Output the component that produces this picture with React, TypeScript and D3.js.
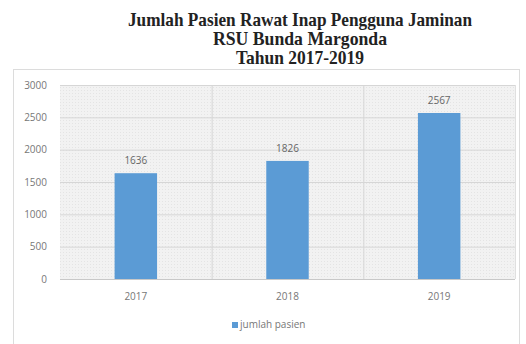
import React from "react";
import * as d3 from "d3";

const categories = ["2017", "2018", "2019"];
const values = [1636, 1826, 2567];
const yTicks = [0, 500, 1000, 1500, 2000, 2500, 3000];
const titleLines = [
  "Jumlah Pasien Rawat Inap Pengguna Jaminan",
  "RSU Bunda Margonda",
  "Tahun 2017-2019",
];
const titleWidths = [344, 174, 128];
const seriesName = "jumlah pasien";

export default function App() {
  const W = 526, H = 344;
  const plot = { left: 60, right: 515, top: 85, bottom: 279 };
  const x = d3.scaleBand().domain(categories).range([plot.left, plot.right]).paddingInner(0.72).paddingOuter(0.36);
  const xb = d3.scaleBand().domain(categories).range([plot.left, plot.right]);
  const y = d3.scaleLinear().domain([0, 3000]).range([plot.bottom, plot.top]);
  const labelFont = "'Open Sans', 'Liberation Sans', sans-serif";
  return (
    <svg width={W} height={H} style={{ position: "absolute", left: 0, top: 0, background: "#fff" }}>
      <defs>
        <pattern id="dots" width="3" height="3" patternUnits="userSpaceOnUse">
          <rect width="3" height="3" fill="#f2f2f2" />
          <rect width="1" height="1" fill="#e4e4e4" />
        </pattern>
      </defs>
      {titleLines.map((t, i) => (
        <text key={i} x={300} y={26 + i * 19} textAnchor="middle" fontFamily="'Liberation Serif', 'Times New Roman', serif"
          fontWeight="bold" fontSize={19} fill="#222" textLength={titleWidths[i]} lengthAdjust="spacingAndGlyphs">{t}</text>
      ))}
      <rect x={13.5} y={69.5} width={506} height={280} fill="#fff" stroke="#dcdcdc" />
      <rect x={plot.left} y={plot.top} width={plot.right - plot.left} height={plot.bottom - plot.top} fill="url(#dots)" />
      {yTicks.map((t) => (
        <g key={t}>
          {t > 0 && <line x1={plot.left} x2={plot.right} y1={y(t) + 0.5} y2={y(t) + 0.5} stroke="#d6d6d6" />}
          <text x={plot.left - 13} y={y(t) + 3.5} textAnchor="end" fontFamily={labelFont} fontSize={10} fill="#777">{t}</text>
        </g>
      ))}
      {categories.slice(1).map((c) => (
        <line key={c} x1={xb(c)! + 0.5} x2={xb(c)! + 0.5} y1={plot.top} y2={plot.bottom} stroke="#d6d6d6" />
      ))}
      <line x1={plot.right + 0.5} x2={plot.right + 0.5} y1={plot.top} y2={plot.bottom} stroke="#e0e0e0" />
      <line x1={plot.left} x2={plot.right} y1={plot.bottom + 0.5} y2={plot.bottom + 0.5} stroke="#c8c8c8" />
      {categories.map((c, i) => (
        <g key={c}>
          <rect x={x(c)} y={y(values[i])} width={x.bandwidth()} height={plot.bottom - y(values[i])} fill="#5b9bd5" />
          <text x={x(c)! + x.bandwidth() / 2} y={y(values[i]) - 9} textAnchor="middle" fontFamily={labelFont} fontSize={10} fill="#666">{values[i]}</text>
          <text x={x(c)! + x.bandwidth() / 2} y={300} textAnchor="middle" fontFamily={labelFont} fontSize={10} fill="#777">{c}</text>
        </g>
      ))}
      <rect x={232} y={322} width={6} height={6} fill="#5b9bd5" />
      <text x={240} y={328} fontFamily={labelFont} fontSize={10} fill="#777">{seriesName}</text>
    </svg>
  );
}
